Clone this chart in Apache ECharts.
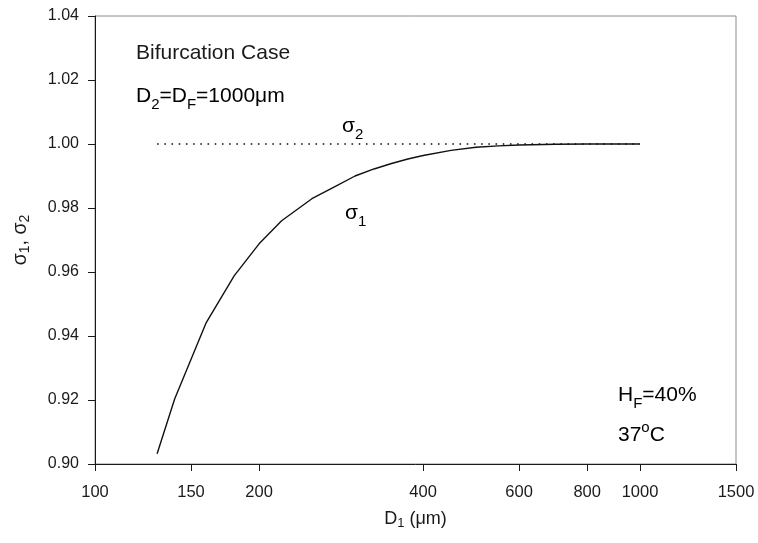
<!DOCTYPE html>
<html>
<head>
<meta charset="utf-8">
<script src="https://cdn.jsdelivr.net/npm/echarts@6/dist/echarts.min.js"></script>
<style>html,body{margin:0;padding:0;background:#fff}#c{width:758px;height:543px}</style>
</head>
<body>
<div id="c"></div>
<script>
// Data
var d1Values = [130, 140, 160, 180, 200, 220, 250, 275, 300, 325, 350, 375, 400, 450, 500, 550, 600, 700, 800, 900, 1000];
var sigma1 = [0.9032, 0.9203, 0.9442, 0.9588, 0.9688, 0.9760, 0.9829, 0.9866, 0.9900, 0.9922, 0.9939, 0.9953, 0.9964, 0.9980, 0.9990, 0.9994, 0.9997, 0.9999, 1.0000, 1.0000, 1.0000];
var d2Values = [130, 1000];
var sigma2 = [1.0, 1.0];
var xTicks = [100, 150, 200, 400, 600, 800, 1000, 1500];

var FONT = 'Liberation Sans, Arial, sans-serif';
var chart = echarts.init(document.getElementById('c'));
var s1 = d1Values.map(function (d, i) { return [d, sigma1[i]]; });
var s2 = d2Values.map(function (d, i) { return [d, sigma2[i]]; });

var txt = '#1a1a1a';
var fs = 21;
function richSet(size, offRatio) {
  var sub = Math.round(size * 0.72);
  var off = Math.round(size * (offRatio || 0.42));
  return {
    n: { fontSize: size, fontFamily: FONT, color: txt },
    s: { fontSize: sub, fontFamily: FONT, color: txt, padding: [off, 0, 0, 0] },
    p: { fontSize: sub, fontFamily: FONT, color: txt, padding: [0, 0, off, 0] }
  };
}

chart.setOption({
  animation: false,
  backgroundColor: '#fff',
  grid: { left: 95, right: 22, top: 16, bottom: 79, show: true, borderColor: '#8a8a8a', borderWidth: 1 },
  xAxis: {
    type: 'log', logBase: 10, min: 100, max: 1500,
    name: '{n|D}{s|1}{n| (μm)}', nameLocation: 'middle', nameGap: 45,
    nameTextStyle: { rich: richSet(18) },
    axisLine: { show: true, onZero: false, lineStyle: { color: '#1a1a1a', width: 1 } },
    axisTick: { show: true, inside: false, length: 7, customValues: xTicks, lineStyle: { color: '#1a1a1a' } },
    minorTick: { show: false },
    axisLabel: { customValues: xTicks, margin: 20, fontSize: 16.5, fontFamily: FONT, color: txt,
      formatter: function (v) { return String(Math.round(v)); } },
    splitLine: { show: false }
  },
  yAxis: {
    type: 'value', min: 0.9, max: 1.04, interval: 0.02,
    name: '{n|σ}{s|1}{n|, σ}{s|2}', nameLocation: 'middle', nameGap: 63,
    nameTextStyle: { rich: richSet(19.5) },
    axisLine: { show: true, lineStyle: { color: '#1a1a1a', width: 1 } },
    axisTick: { show: true, inside: false, length: 7, lineStyle: { color: '#1a1a1a' } },
    axisLabel: { margin: 16, fontSize: 16, fontFamily: FONT, color: txt,
      formatter: function (v) { return v.toFixed(2); } },
    splitLine: { show: false }
  },
  series: [
    { type: 'line', data: s1, showSymbol: false, symbol: 'none',
      lineStyle: { color: '#111', width: 1.4 } },
    { type: 'line', data: s2, showSymbol: false, symbol: 'none',
      lineStyle: { color: '#111', width: 1.5, type: [1.6, 5.6] } }
  ],
  graphic: [
    { type: 'text', left: 136, top: 43, style: { text: 'Bifurcation Case', font: fs + 'px ' + FONT, fill: txt } },
    { type: 'text', left: 136, top: 86, style: { text: '{n|D}{s|2}{n|=D}{s|F}{n|=1000μm}', rich: richSet(fs, 0.75) } },
    { type: 'text', left: 342, top: 116, style: { text: '{n|σ}{s|2}', rich: richSet(fs, 0.75) } },
    { type: 'text', left: 345, top: 203, style: { text: '{n|σ}{s|1}', rich: richSet(fs, 0.75) } },
    { type: 'text', left: 618, top: 385, style: { text: '{n|H}{s|F}{n|=40%}', rich: richSet(fs, 0.75) } },
    { type: 'text', left: 618, top: 420, style: { text: '{n|37}{p|o}{n|C}', rich: richSet(fs, 0.75) } }
  ]
});
</script>
</body>
</html>
